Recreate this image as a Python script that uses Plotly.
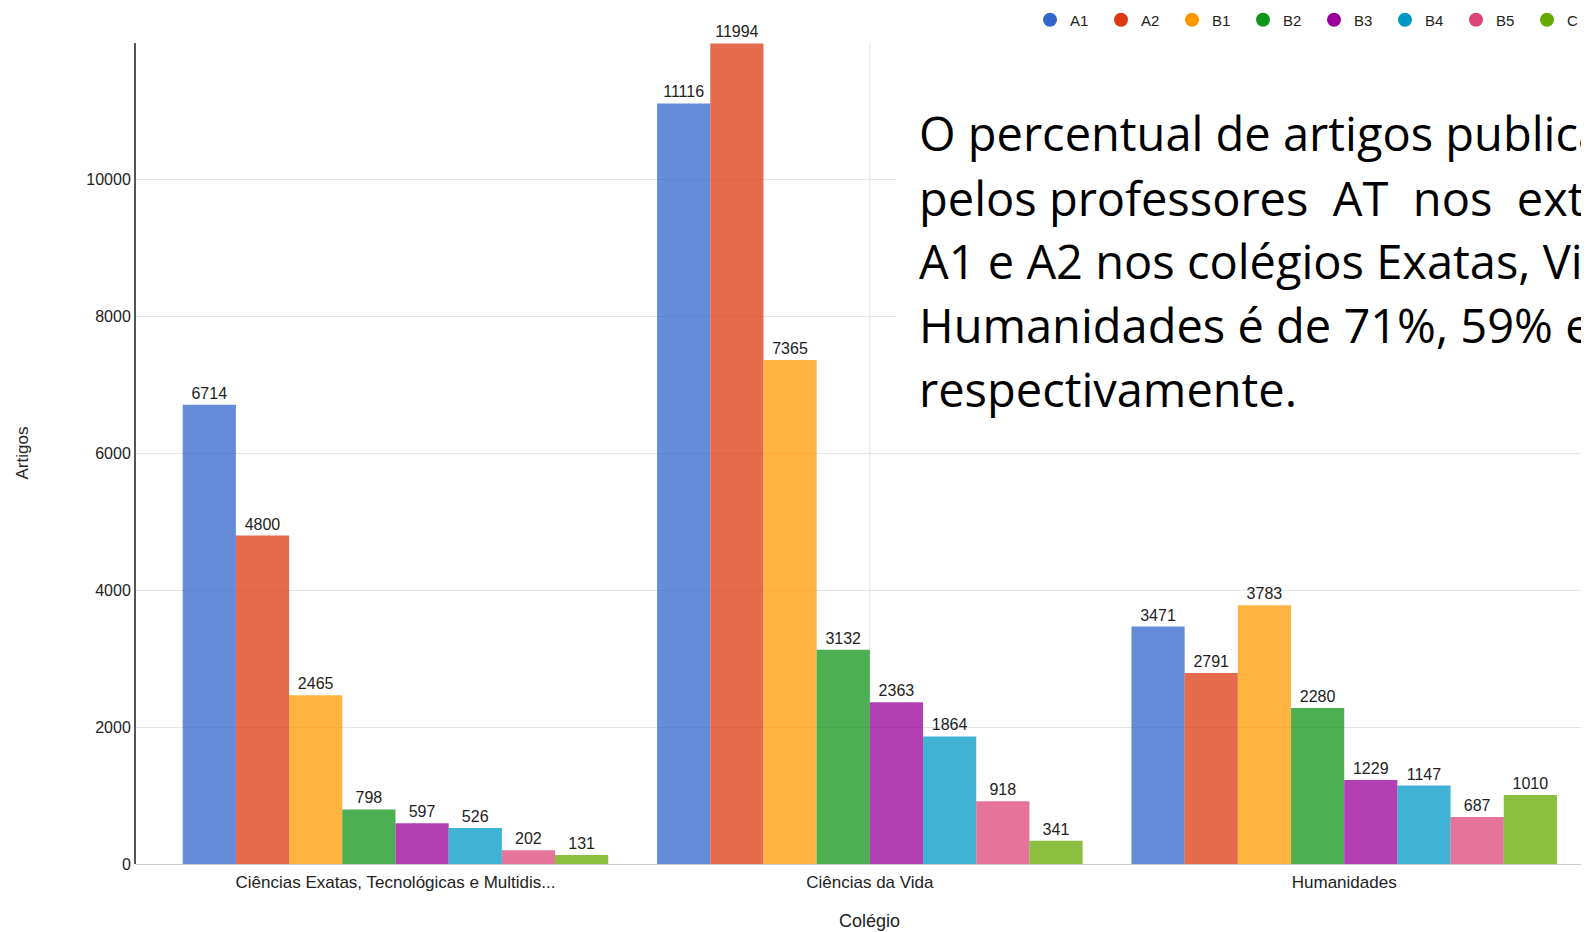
import plotly.graph_objects as go

# data
colegios = ["Ciências Exatas, Tecnológicas e Multidis...", "Ciências da Vida", "Humanidades"]
estratos = ["A1", "A2", "B1", "B2", "B3", "B4", "B5", "C"]
a1 = [6714, 11116, 3471]
a2 = [4800, 11994, 2791]
b1 = [2465, 7365, 3783]
b2 = [798, 3132, 2280]
b3 = [597, 2363, 1229]
b4 = [526, 1864, 1147]
b5 = [202, 918, 687]
c = [131, 341, 1010]
series = [a1, a2, b1, b2, b3, b4, b5, c]

y_ticks = [0, 2000, 4000, 6000, 8000, 10000]
texto = [
    "O percentual de artigos publica",
    "pelos professores  AT  nos  extra",
    "A1 e A2 nos colégios Exatas, Vid",
    "Humanidades é de 71%, 59% e",
    "respectivamente.",
]

cores = ["#3366cc", "#dc3912", "#ff9900", "#109618", "#990099", "#0099c6", "#dd4477", "#66aa00"]

# page body margin shifts the figure by 8px, so work in page pixels minus OFF
OFF = 8
W, H = 1589 - OFF, 932 - OFF
L, T = 136 - OFF, 43 - OFF
B = H - (864 - OFF)
PW, PH = W - L, H - T - B


def px_x(xp):
    return (xp - OFF - L) / PW


def px_y(yp):
    return (H - B - (yp - OFF)) / PH


fig = go.Figure()

for nome, vals, cor in zip(estratos, series, cores):
    fig.add_trace(go.Bar(
        x=colegios, y=vals, name=nome,
        marker=dict(color=cor, opacity=0.75, line=dict(width=0)),
        text=[str(v) for v in vals], textposition="outside",
        textfont=dict(family="Liberation Sans, Arial", size=16, color="#222222"),
        cliponaxis=False, showlegend=False,
    ))

# legend entries with round markers
for nome, cor in zip(estratos, cores):
    fig.add_trace(go.Scatter(
        x=[None], y=[None], mode="markers", name=nome,
        marker=dict(symbol="circle", size=14, color=cor),
    ))

# white box behind the overlaid slide text
fig.add_shape(type="rect", xref="x", yref="y", x0=1.057, x1=3.0, y0=6480, y1=12000,
              fillcolor="white", line=dict(width=0), layer="above")
# vertical gridline at middle category
fig.add_shape(type="line", xref="x", yref="y", x0=1, x1=1, y0=0, y1=12000,
              line=dict(color="#e4e4e4", width=1), layer="below")

linhas_y = [132.8, 197.6, 261.5, 325.3, 389.2]
for linha, yp in zip(texto, linhas_y):
    fig.add_annotation(
        text=linha, xref="paper", yref="paper",
        x=px_x(917), y=px_y(yp),
        xanchor="left", yanchor="middle", showarrow=False,
        font=dict(family="Open Sans, Noto Sans", size=47, color="#000000"),
    )

fig.add_annotation(
    text="Colégio", xref="x", yref="paper", x="Ciências da Vida", y=px_y(921),
    xanchor="center", yanchor="middle", showarrow=False,
    font=dict(family="Liberation Sans, Arial", size=18, color="#222222"),
)
fig.add_annotation(
    text="Artigos", xref="paper", yref="paper", x=px_x(22), y=0.5,
    xanchor="center", yanchor="middle", textangle=-90, showarrow=False,
    font=dict(family="Liberation Sans, Arial", size=17, color="#222222"),
)

fig.update_layout(
    width=W, height=H,
    margin=dict(l=L, r=0, t=T, b=B, autoexpand=False),
    paper_bgcolor="white", plot_bgcolor="white",
    barmode="group", bargap=0.103, bargroupgap=0,
    font=dict(family="Liberation Sans, Arial", size=12, color="#222222"),
    legend=dict(
        orientation="h", x=px_x(1030), xanchor="left",
        y=px_y(20), yanchor="middle",
        entrywidth=26, entrywidthmode="pixels", itemwidth=30,
        font=dict(size=15, color="#222222"), bgcolor="rgba(0,0,0,0)",
    ),
    xaxis=dict(
        range=[-0.547, 2.516], showgrid=False, showline=False, ticks="",
        tickfont=dict(size=17, color="#222222"), ticklabelstandoff=6,
    ),
    yaxis=dict(
        range=[0, 12000], tickvals=y_ticks, tickformat="d", showgrid=True, gridcolor="#e4e4e4",
        zeroline=True, zerolinecolor="#cccccc", zerolinewidth=1,
        showline=True, linecolor="#555555", linewidth=2,
        tickfont=dict(size=16, color="#222222"), ticks="",
    ),
)

fig.write_html("out.html")
